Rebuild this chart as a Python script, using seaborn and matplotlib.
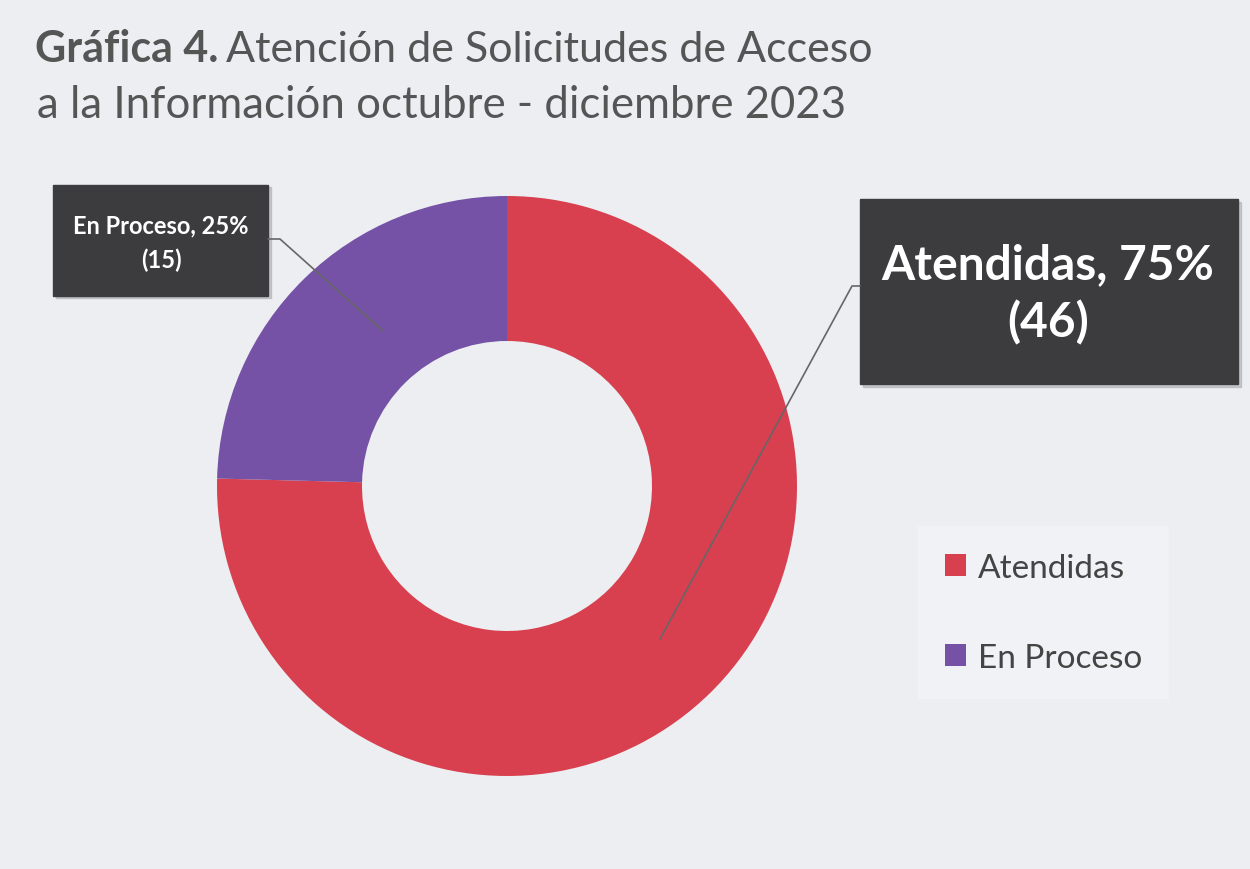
import matplotlib
matplotlib.use("Agg")
import matplotlib.pyplot as plt
import seaborn as sns
from matplotlib.patches import Rectangle

# Data
categorias = ['Atendidas', 'En Proceso']
solicitudes = [46, 15]
porcentajes = ['75%', '25%']
colores = ['#D8404F', '#7552A6']

sns.set_theme(style="white")
plt.rcParams['font.family'] = ['Lato', 'DejaVu Sans']

W, H = 1250, 870
fig = plt.figure(figsize=(12.5, 8.7), dpi=100)
fig.patch.set_facecolor('#ECEEF2')
ax = fig.add_axes([0, 0, 1, 1])
ax.set_xlim(0, W)
ax.set_ylim(0, H)
ax.set_aspect('equal')
ax.axis('off')


def Y(y):
    return H - y


# Donut
wedges, _ = ax.pie(solicitudes, colors=colores, startangle=90, counterclock=False,
                   center=(507, Y(487)), radius=290,
                   wedgeprops=dict(width=145, edgecolor='none'))
ax.set_xlim(0, W)
ax.set_ylim(0, H)

# Title
t1 = ax.text(35, Y(62), 'Gráfica 4.', fontsize=31, fontweight='bold', color='#555555',
             ha='left', va='baseline')
fig.canvas.draw()
bb = t1.get_window_extent(renderer=fig.canvas.get_renderer())
ax.text(bb.x1 + 8, Y(62), 'Atención de Solicitudes de Acceso', fontsize=31,
        color='#555555', ha='left', va='baseline')
ax.text(37, Y(118), 'a la Información octubre - diciembre 2023', fontsize=31.5,
        color='#555555', ha='left', va='baseline')

# Data labels
box_col = '#3C3C3F'
# En Proceso label
ax.add_patch(Rectangle((56, Y(299)), 215, 111, color='#9FA3AA', alpha=0.5, zorder=2))
ax.add_patch(Rectangle((53, Y(297)), 215, 111, color=box_col, zorder=3))
ax.text(161, Y(243), f'{categorias[1]}, {porcentajes[1]}\n({solicitudes[1]})',
        fontsize=17, fontweight='bold', color='white', ha='center', va='center',
        linespacing=1.55, zorder=4)
ax.plot([268, 280, 383], [Y(240), Y(240), Y(332)], color='#666666', lw=1.2, zorder=3)

# Atendidas label
ax.add_patch(Rectangle((863, Y(388)), 378, 185, color='#9FA3AA', alpha=0.5, zorder=2))
ax.add_patch(Rectangle((860, Y(385)), 378, 185, color=box_col, zorder=3))
ax.text(1048, Y(294), f'{categorias[0]}, {porcentajes[0]}\n({solicitudes[0]})',
        fontsize=34.5, fontweight='bold', color='white', ha='center', va='center',
        linespacing=1.35, zorder=4)
ax.plot([860, 852, 660], [Y(287), Y(287), Y(640)], color='#666666', lw=1.2, zorder=3)

# Legend
leg = ax.legend(wedges, categorias, loc='upper left', bbox_to_anchor=(918 / W, 1 - 527 / H),
                frameon=True, fontsize=24, handlelength=0.65, handleheight=0.65,
                handletextpad=0.35, labelspacing=1.8, borderpad=0.8, borderaxespad=0,
                labelcolor='#444444', fancybox=False)
leg.get_frame().set_facecolor('#F3F4F6')
leg.get_frame().set_edgecolor('none')

fig.savefig('out.png', dpi=100, facecolor=fig.get_facecolor())
